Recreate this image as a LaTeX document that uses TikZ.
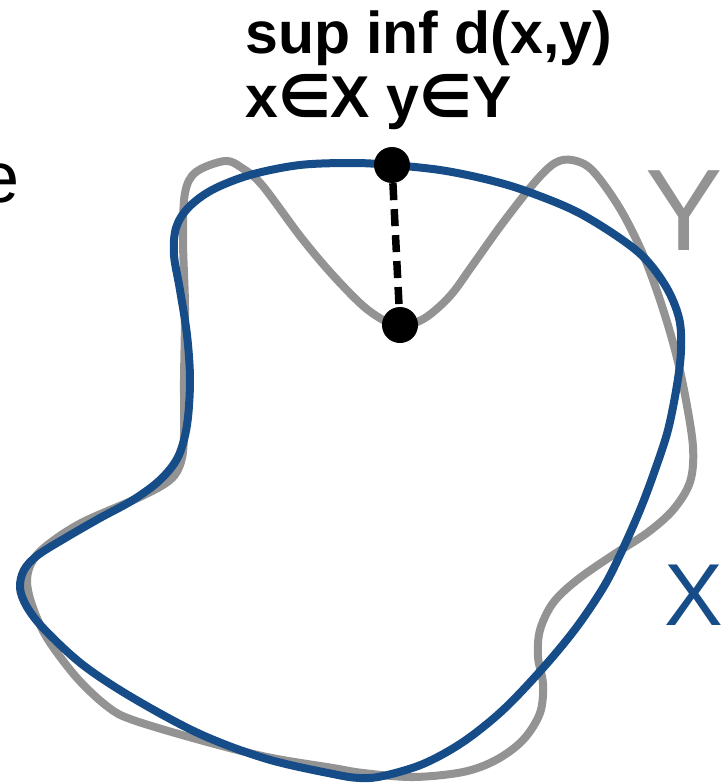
\documentclass[tikz,border=0pt]{standalone}
\usepackage{fontspec}
\setmainfont{Liberation Sans}
\newfontfamily\symfont{DejaVu Sans}
\definecolor{xblue}{HTML}{164C87}
\definecolor{ygray}{HTML}{939393}
\tikzset{
  ycurve/.style={draw=ygray, line width=8pt, line join=round},
  xcurve/.style={draw=xblue, line width=8pt, line join=round},
  dot/.style={circle, fill=black, inner sep=0pt, minimum size=36pt},
  dist/.style={draw=black, line width=7.5pt, dash pattern=on 17pt off 9pt},
  formula/.style={anchor=base west, inner sep=0pt, font=\fontsize{59}{64}\selectfont\bfseries},
}
\begin{document}
\begin{tikzpicture}[x=1pt, y=-1pt]
\useasboundingbox (0,0) rectangle (726,784);
% set Y (gray)
\draw[ycurve] plot[smooth cycle, tension=0.55] coordinates {
 (225,161) (242,168) (262,185) (300,236) (330,272) (362,305) (385,321) (402,326)
 (425,318) (450,296) (472,266) (502,224) (535,182) (555,163) (572,160) (592,170)
 (619,207) (642,252) (660,300) (675,350) (685,395) (693,447) (690,482) (673,510)
 (647,533) (613,555) (577,580) (553,603) (540,630) (538,657) (543,684) (540,713)
 (523,740) (496,760) (463,772) (413,777) (363,773) (333,768) (267,757) (200,740)
 (133,720) (108,707) (77,678) (47,638) (32,605) (27,580) (33,560) (50,543)
 (83,522) (140,497) (170,480) (181,462) (184,435) (184,380) (185,307) (183,240)
 (185,193) (196,172)};
% set X (blue)
\draw[xcurve] plot[smooth cycle, tension=0.55] coordinates {
 (300,165) (353,163) (392,165) (440,170) (485,179) (526,191) (581,214) (637,251)
 (665,285) (679,318) (681,350) (677,385) (668,430) (655,470) (640,510) (620,555)
 (603,588) (576,628) (543,668) (503,710) (463,742) (423,764) (383,776) (360,778)
 (333,774) (267,759) (200,734) (133,698) (83,665) (45,630) (27,607) (20,588)
 (24,570) (38,555) (67,537) (100,518) (133,500) (160,480) (178,457) (187,425)
 (190,380) (187,335) (180,290) (174,255) (176,228) (188,208) (212,190) (250,175)};
% points and distance
\node[dot] (xp) at (392,165) {};
\node[dot] (yp) at (400,325) {};
\draw[dist] (xp) -- (yp);
% labels
\node[formula] (sup) at (245,54) {sup inf d(x,y)};
\node[formula] (sub) at (245,117) {x{\symfont ∈}X y{\symfont ∈}Y};
\node[anchor=base west, inner sep=0pt, font=\fontsize{72}{80}\selectfont] (cut) at (-21,202) {e};
\node[anchor=base west, inner sep=0pt, text=ygray, font=\fontsize{116}{120}\selectfont] (ylab) at (645,250) {Y};
\node[anchor=base west, inner sep=0pt, text=xblue, font=\fontsize{88}{92}\selectfont] (xlab) at (664,625) {X};
\end{tikzpicture}
\end{document}
